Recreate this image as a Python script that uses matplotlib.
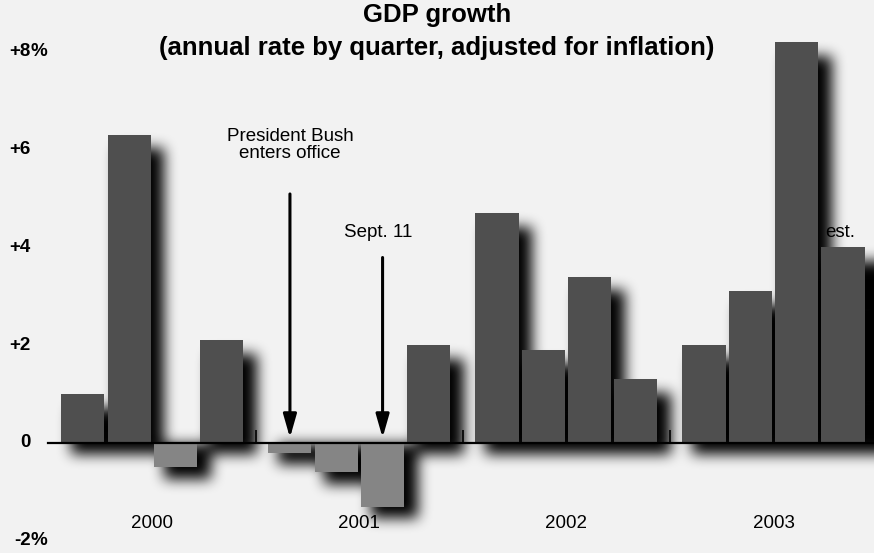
import numpy as np
import matplotlib
matplotlib.use("Agg")
import matplotlib.pyplot as plt
from matplotlib.transforms import blended_transform_factory

# GDP growth, annual rate by quarter (%)
years = ["2000", "2001", "2002", "2003"]
q2000 = [1.0, 6.3, -0.5, 2.1]
q2001 = [-0.2, -0.6, -1.3, 2.0]
q2002 = [4.7, 1.9, 3.4, 1.3]
q2003 = [2.0, 3.1, 8.2, 4.0]
yticks = [8, 6, 4, 2, 0, -2]
ytick_labels = ["+8%", "+6", "+4", "+2", "0", "-2%"]
events = ["President Bush\nenters office", "Sept. 11"]
event_bar = [4, 6]  # index of the quarter each arrow points to

W, H = 874, 553
fig = plt.figure(figsize=(W / 100, H / 100), dpi=100)
fig.patch.set_facecolor("#f2f2f2")
ax = fig.add_axes([0, 0, 1, 1])
ax.set_facecolor("#f2f2f2")
ax.axis("off")

# layout: 4 quarters per year, with a gap between years
gap = 0.47
xmin, xmax = -1.79, 17.08
ymin, ymax = -2.25, 9.06
ax.set_xlim(xmin, xmax)
ax.set_ylim(ymin, ymax)

values = q2000 + q2001 + q2002 + q2003
xs = [g * (4 + gap) + q for g in range(4) for q in range(4)]
width = 0.93

# soft drop shadows, rendered as a blurred image
def to_px(x, y):
    return (x - xmin) / (xmax - xmin) * W, (ymax - y) / (ymax - ymin) * H

def box_blur(a, r):
    for axis in (0, 1):
        pad = [(r + 1, r) if i == axis else (0, 0) for i in range(2)]
        c = np.cumsum(np.pad(a, pad, mode="edge"), axis=axis)
        if axis == 0:
            a = (c[2 * r + 1:] - c[:-2 * r - 1]) / (2 * r + 1)
        else:
            a = (c[:, 2 * r + 1:] - c[:, :-2 * r - 1]) / (2 * r + 1)
    return a

mask = np.zeros((H, W))
for x, v in zip(xs, values):
    x0, y0 = to_px(x - width / 2, 0)
    x1, y1 = to_px(x + width / 2, v)
    if v >= 0:
        top, bot = int(y1 + 14), int(y0 + 12)
    else:
        top, bot = int(y0 + 2), int(y1 + 12)
    mask[max(top, 0):bot, int(x0 + 10):int(x1 + 14)] = 1
for _ in range(3):
    mask = box_blur(mask, 6)
shadow = np.zeros((H, W, 4))
shadow[..., 3] = np.clip(mask * 1.0, 0, 1)
ax.imshow(shadow, extent=(xmin, xmax, ymin, ymax), origin="upper",
          aspect="auto", interpolation="bilinear", zorder=1)

colors = ["#4f4f4f" if v >= 0 else "#858585" for v in values]
ax.bar(xs, values, width=width, color=colors, zorder=2)

# zero line with small separators between years
ax.plot([xmin + 48 / W * (xmax - xmin), xmax], [0, 0],
        color="black", lw=1.6, zorder=3)
seps = [(xs[4 * g + 3] + xs[4 * g + 4]) / 2 for g in range(3)]
ax.vlines(seps, 0, 0.27, color="black", lw=1.2, zorder=3)

# y labels
tr = blended_transform_factory(fig.transFigure, ax.transData)
for t, lab in zip(yticks, ytick_labels):
    ax.text(31 / W, t, lab.replace("%", ""), transform=tr, ha="right", va="center",
            fontsize=13.5, fontweight="bold", family="Liberation Sans")
    if "%" in lab:
        ax.text(31 / W, t, "%", transform=tr, ha="left", va="center",
                fontsize=13.5, fontweight="bold", family="Liberation Sans")

# year labels
for g, yr in enumerate(years):
    xc = (xs[4 * g] + xs[4 * g + 3]) / 2
    ax.text(xc, -1.65, yr, ha="center", va="center", fontsize=13.5,
            family="Liberation Sans")

# event arrows
for lab, i, top in zip(events, event_bar, [5.15, 3.85]):
    ax.annotate("", xy=(xs[i], 0.05), xytext=(xs[i], top),
                arrowprops=dict(arrowstyle="-|>,head_length=1.4,head_width=0.4",
                                color="black", lw=2.2), zorder=4)
ax.text(xs[4], 5.75, events[0], ha="center", va="bottom", fontsize=13.5,
        family="Liberation Sans", linespacing=0.95)
ax.text(xs[6] - 0.1, 4.3, events[1], ha="center", va="center", fontsize=13.5,
        family="Liberation Sans")

ax.text(xs[15] - 0.05, 4.3, "est.", ha="center", va="center", fontsize=13.5,
        family="Liberation Sans", zorder=0.5)

# title
fig.text(0.5, 1 - 15 / H, "GDP growth", ha="center", va="center",
         fontsize=18.5, fontweight="bold", family="Liberation Sans")
fig.text(0.5, 1 - 48 / H, "(annual rate by quarter, adjusted for inflation)",
         ha="center", va="center", fontsize=18.5, fontweight="bold",
         family="Liberation Sans")

fig.savefig("out.png", dpi=100, facecolor=fig.get_facecolor())
